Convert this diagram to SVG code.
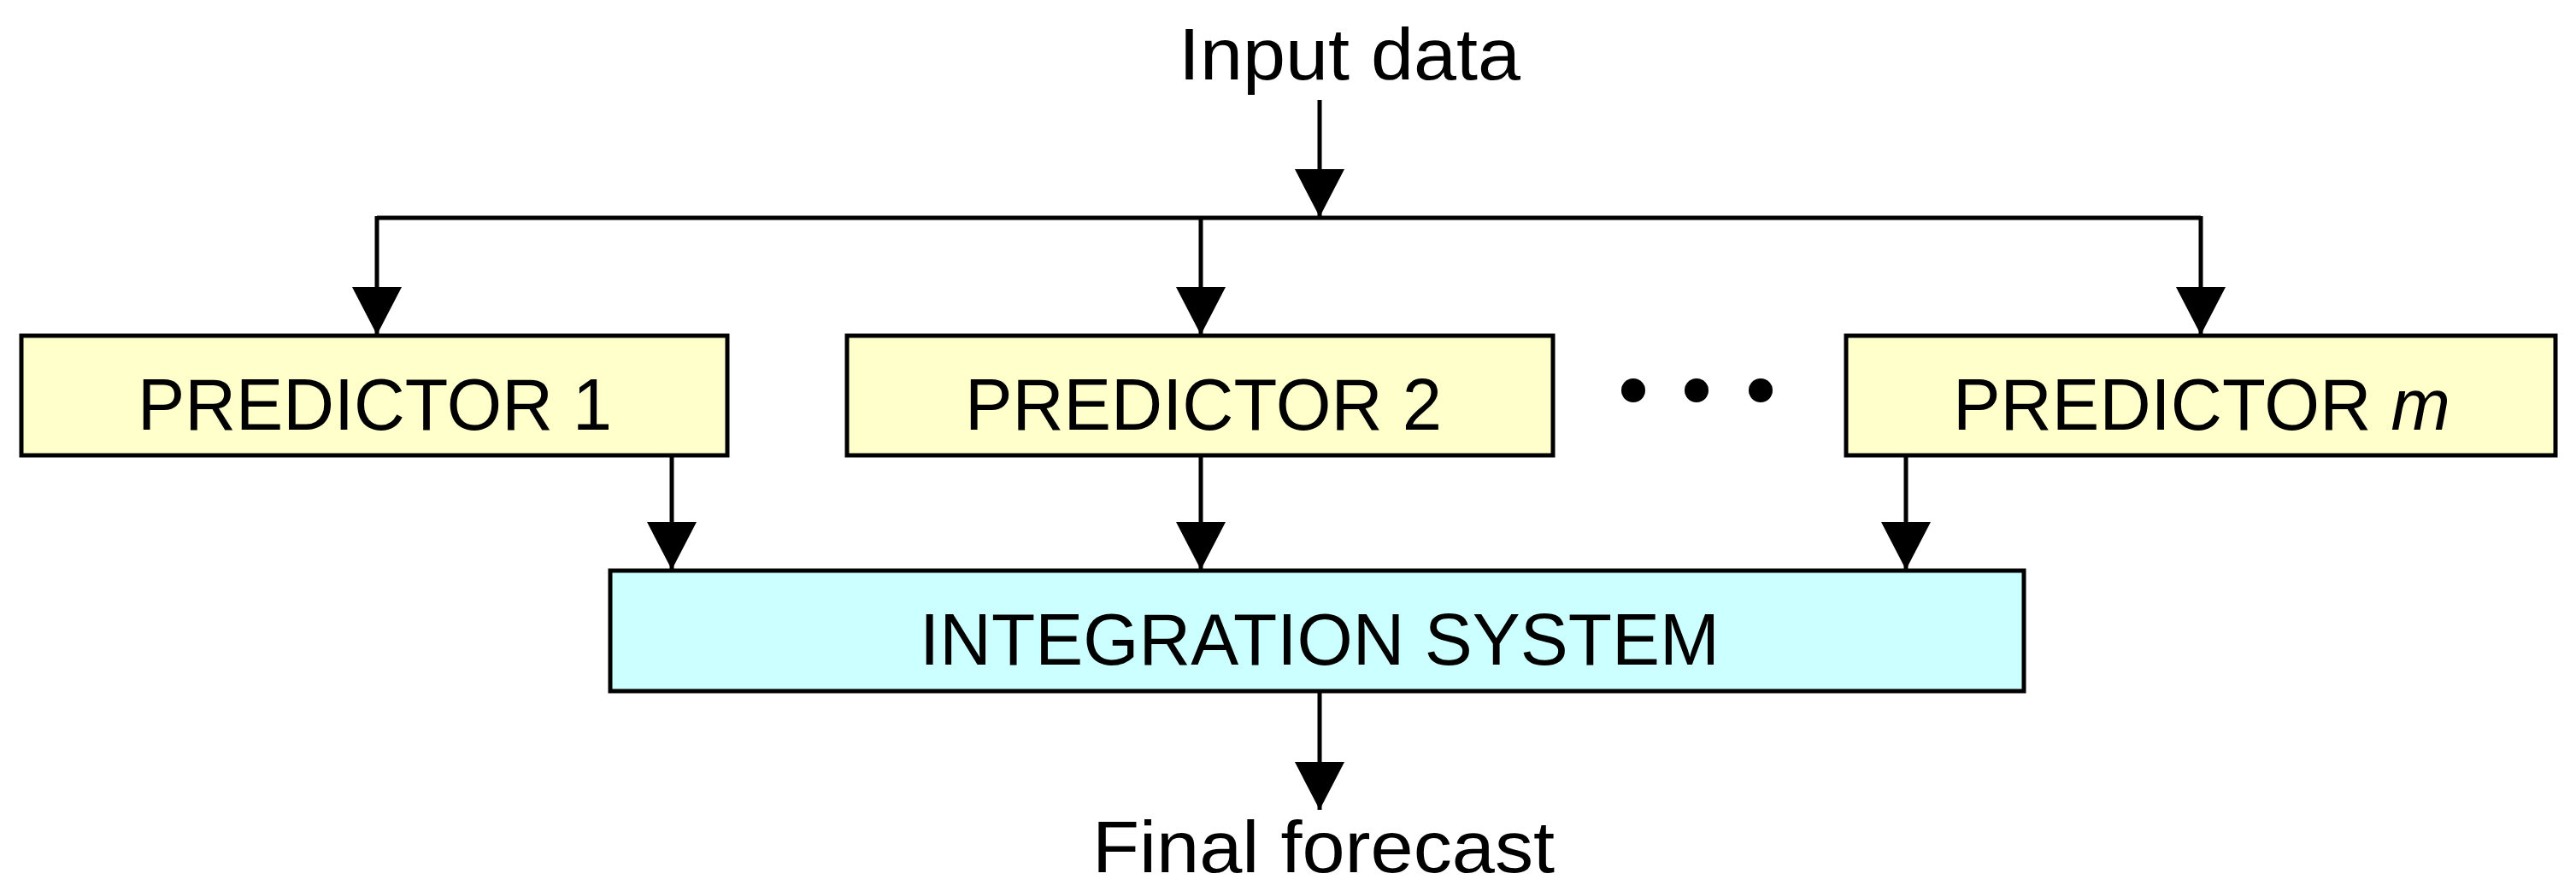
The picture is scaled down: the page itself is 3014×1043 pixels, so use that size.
<svg xmlns="http://www.w3.org/2000/svg" width="3014" height="1043" viewBox="0 0 3014 1043">
<style>
text{font-family:"Liberation Sans",Arial,sans-serif;font-size:85px;fill:#000}
.p{fill:#FFFFCC;stroke:#000;stroke-width:5}
.i{fill:#CCFFFF;stroke:#000;stroke-width:5}
.c line,.c polyline{stroke:#000;stroke-width:5;fill:none}
</style>
<defs><marker id="a" markerUnits="userSpaceOnUse" markerWidth="60" markerHeight="60" refX="56" refY="29" orient="auto"><path d="M0,0 L56,29 L0,58 Z" fill="#000"/></marker></defs>
<rect width="3014" height="1043" fill="#fff"/>
<g class="c" id="connectors">
<line x1="1544" y1="117" x2="1544" y2="254" marker-end="url(#a)"/>
<polyline points="441,255 2575,255"/>
<line x1="441" y1="253" x2="441" y2="392" marker-end="url(#a)"/>
<line x1="1405" y1="255" x2="1405" y2="392" marker-end="url(#a)"/>
<line x1="2575" y1="253" x2="2575" y2="392" marker-end="url(#a)"/>
<line x1="786" y1="533" x2="786" y2="667" marker-end="url(#a)"/>
<line x1="1405" y1="533" x2="1405" y2="667" marker-end="url(#a)"/>
<line x1="2230" y1="533" x2="2230" y2="667" marker-end="url(#a)"/>
<line x1="1544" y1="809" x2="1544" y2="948" marker-end="url(#a)"/>
</g>
<g id="input"><text x="1379" y="93" textLength="400" lengthAdjust="spacingAndGlyphs" font-size="91">Input data</text></g>
<g id="p1"><rect class="p" x="25" y="393" width="826" height="140"/><text x="161" y="503" textLength="555" lengthAdjust="spacingAndGlyphs">PREDICTOR 1</text></g>
<g id="p2"><rect class="p" x="991" y="393" width="826" height="140"/><text x="1129" y="503" textLength="558" lengthAdjust="spacingAndGlyphs">PREDICTOR 2</text></g>
<g id="dots"><circle cx="1911" cy="457" r="14"/><circle cx="1985" cy="457" r="14"/><circle cx="2060" cy="457" r="14"/></g>
<g id="pm"><rect class="p" x="2160" y="393" width="830" height="140"/><text x="2285" y="503" textLength="582" lengthAdjust="spacingAndGlyphs">PREDICTOR <tspan font-style="italic">m</tspan></text></g>
<g id="integration"><rect class="i" x="714" y="668" width="1654" height="141"/><text x="1076" y="778" textLength="936" lengthAdjust="spacingAndGlyphs">INTEGRATION SYSTEM</text></g>
<g id="final"><text x="1278" y="1021" textLength="541" lengthAdjust="spacingAndGlyphs" font-size="91">Final forecast</text></g>
</svg>
